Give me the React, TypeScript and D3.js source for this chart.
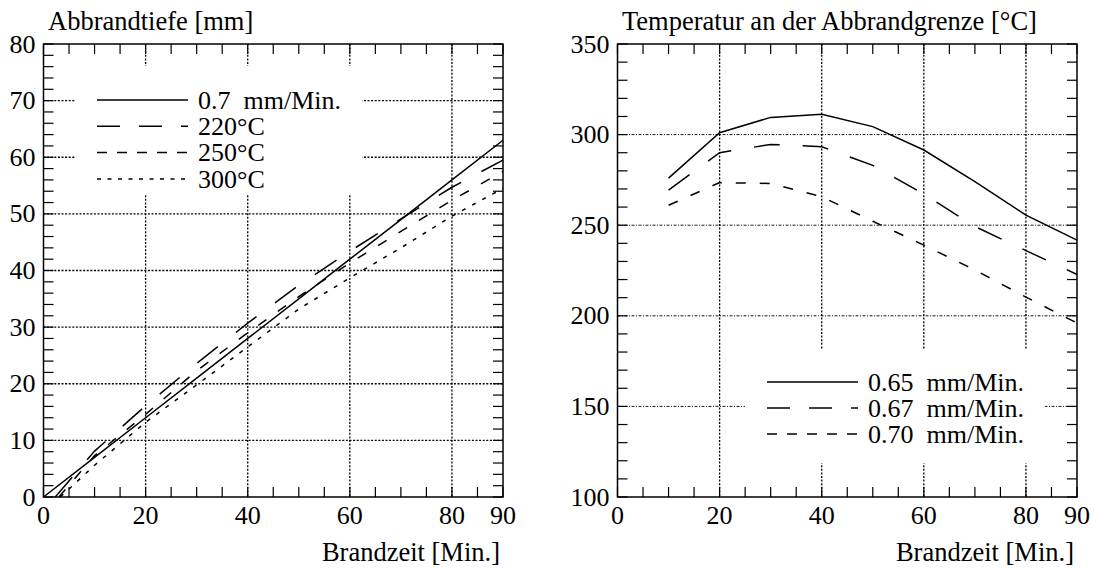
import React from "react";
import * as d3 from "d3";

// ---------- data ----------
const xTickLabels = [0, 20, 40, 60, 80, 90];

// Left panel: Abbrandtiefe [mm]
const leftYTicks = [0, 10, 20, 30, 40, 50, 60, 70, 80];
const solidT = [0, 10, 20, 30, 40, 50, 60, 70, 80, 90];
const solidV = [0, 7, 14, 21, 28, 35, 42, 49, 56, 63];
const t220 = [2.3, 10, 20, 30, 40, 50, 60, 70, 80, 90];
const v220 = [0, 8.1, 16.1, 23.6, 30.7, 37.4, 43.4, 49.1, 54.7, 59.5];
const t250 = [3, 10, 20, 30, 40, 50, 60, 70, 80, 90];
const v250 = [0, 7.3, 14.6, 22.3, 29, 35.4, 41.3, 46.9, 52.4, 57.5];
const t300 = [3.3, 10, 20, 30, 40, 50, 60, 70, 80, 90];
const v300 = [0, 5.6, 13.2, 19.8, 26.5, 33.2, 38.7, 44, 49.6, 54.5];
const leftLegend = ["0.7  mm/Min.", "220°C", "250°C", "300°C"];

// Right panel: Temperatur an der Abbrandgrenze [°C]
const rightYTicks = [100, 150, 200, 250, 300, 350];
const rightT = [10, 20, 30, 40, 50, 60, 70, 80, 90];
const v065 = [276, 301, 309.5, 311.2, 304.4, 291.5, 274, 255.6, 241.8];
const v067 = [269.4, 290, 294.6, 293.3, 283, 267.2, 249.3, 236, 222.8];
const v070 = [261, 273.5, 273, 265.7, 252.2, 239, 225.3, 210.3, 196];
const rightLegend = ["0.65  mm/Min.", "0.67  mm/Min.", "0.70  mm/Min."];

// ---------- styles ----------
const FONT = '"Liberation Serif", "DejaVu Serif", Times, serif';
const DASH_CURVE = ["", "26,23", "10,14", "4,7.5"];
const DASH_LEGEND = ["", "23,19", "10,10", "4,6.5"];

type Series = { t: number[]; v: number[]; style: number };

type PanelProps = {
  x0: number;
  x1: number;
  yTop: number;
  yBottom: number;
  yDomain: [number, number];
  yTicks: number[];
  yMinorStep: number;
  gridY: number[];
  gridX: number[];
  title: string;
  series: Series[];
  legend: string[];
  legendStyles: number[];
  legendLineX: [number, number];
  legendY0: number;
  legendDy: number;
  mask: { x: number; y: number; w: number; h: number };
  hGridDash: string;
  hGridWidth: number;
};

function Panel(p: PanelProps) {
  const x = d3.scaleLinear().domain([0, 90]).range([p.x0, p.x1]);
  const y = d3.scaleLinear().domain(p.yDomain).range([p.yBottom, p.yTop]);
  const line = d3
    .line<[number, number]>()
    .x((d) => x(d[0]))
    .y((d) => y(d[1]));

  const xMinor = d3.range(0, 90.001, 5);
  const yMinor = d3.range(p.yDomain[0], p.yDomain[1] + 0.001, p.yMinorStep);
  const TL = 10;

  return (
    <g>
      {/* grid */}
      {p.gridX.map((g) => (
        <line
          key={"gx" + g}
          x1={x(g)}
          x2={x(g)}
          y1={p.yTop}
          y2={p.yBottom}
          stroke="#000"
          strokeWidth={1.3}
          strokeDasharray="2,1.6"
        />
      ))}
      {p.gridY.map((g) => (
        <line
          key={"gy" + g}
          x1={p.x0}
          x2={p.x1}
          y1={y(g)}
          y2={y(g)}
          stroke="#000"
          strokeWidth={p.hGridWidth}
          strokeDasharray={p.hGridDash}
        />
      ))}
      <rect x={p.mask.x} y={p.mask.y} width={p.mask.w} height={p.mask.h} fill="#fff" />

      {/* ticks */}
      {xMinor.map((t) => (
        <g key={"xt" + t}>
          <line x1={x(t)} x2={x(t)} y1={p.yBottom} y2={p.yBottom - TL} stroke="#000" strokeWidth={1.2} />
          <line x1={x(t)} x2={x(t)} y1={p.yTop} y2={p.yTop + TL} stroke="#000" strokeWidth={1.2} />
        </g>
      ))}
      {yMinor.map((v) => (
        <g key={"yt" + v}>
          <line x1={p.x0} x2={p.x0 + TL} y1={y(v)} y2={y(v)} stroke="#000" strokeWidth={1.2} />
          <line x1={p.x1} x2={p.x1 - TL} y1={y(v)} y2={y(v)} stroke="#000" strokeWidth={1.2} />
        </g>
      ))}

      {/* frame */}
      <rect
        x={p.x0}
        y={p.yTop}
        width={p.x1 - p.x0}
        height={p.yBottom - p.yTop}
        fill="none"
        stroke="#000"
        strokeWidth={1.5}
      />

      {/* curves */}
      {p.series.map((s, i) => (
        <path
          key={"s" + i}
          d={line(s.t.map((t, j) => [t, s.v[j]] as [number, number])) || ""}
          fill="none"
          stroke="#000"
          strokeWidth={1.5}
          strokeDasharray={DASH_CURVE[s.style] || undefined}
        />
      ))}

      {/* tick labels */}
      {p.yTicks.map((v) => (
        <text key={"yl" + v} x={p.x0 - 8} y={y(v) + 8.5} textAnchor="end" fontSize={26}>
          {v}
        </text>
      ))}
      {xTickLabels.map((t) => (
        <text key={"xl" + t} x={x(t)} y={p.yBottom + 27} textAnchor="middle" fontSize={26}>
          {t}
        </text>
      ))}

      {/* titles */}
      <text x={p.x0 + 4.5} y={30} fontSize={26.5}>
        {p.title}
      </text>
      <text x={p.x1 - 3} y={561} textAnchor="end" fontSize={26.5}>
        Brandzeit [Min.]
      </text>

      {/* legend */}
      {p.legend.map((lab, i) => {
        const ly = p.legendY0 + i * p.legendDy;
        return (
          <g key={"lg" + i}>
            <line
              x1={p.legendLineX[0]}
              x2={p.legendLineX[1]}
              y1={ly}
              y2={ly}
              stroke="#000"
              strokeWidth={1.5}
              strokeDasharray={DASH_LEGEND[p.legendStyles[i]] || undefined}
            />
            <text x={p.legendLineX[1] + 10} y={ly + 8.8} fontSize={26} style={{ whiteSpace: "pre" }}>
              {lab}
            </text>
          </g>
        );
      })}
    </g>
  );
}

export default function App() {
  return (
    <svg
      width={1094}
      height={568}
      style={{ position: "fixed", left: 0, top: 0, background: "#fff", fontFamily: FONT }}
    >
      <rect x={0} y={0} width={1094} height={568} fill="#fff" />
      <Panel
        x0={43.5}
        x1={503}
        yTop={44}
        yBottom={497}
        yDomain={[0, 80]}
        yTicks={leftYTicks}
        yMinorStep={2}
        gridY={[10, 20, 30, 40, 50, 60, 70]}
        gridX={[20, 40, 60, 80]}
        title="Abbrandtiefe [mm]"
        series={[
          { t: solidT, v: solidV, style: 0 },
          { t: t220, v: v220, style: 1 },
          { t: t250, v: v250, style: 2 },
          { t: t300, v: v300, style: 3 },
        ]}
        legend={leftLegend}
        legendStyles={[0, 1, 2, 3]}
        legendLineX={[97, 188]}
        legendY0={100}
        legendDy={26.3}
        mask={{ x: 75, y: 66, w: 287, h: 129 }}
        hGridDash="2,1.6"
        hGridWidth={1.3}
      />
      <Panel
        x0={617.5}
        x1={1077}
        yTop={44}
        yBottom={497}
        yDomain={[100, 350]}
        yTicks={rightYTicks}
        yMinorStep={10}
        gridY={[150, 200, 250, 300]}
        gridX={[20, 40, 60, 80]}
        title="Temperatur an der Abbrandgrenze [°C]"
        series={[
          { t: rightT, v: v065, style: 0 },
          { t: rightT, v: v067, style: 1 },
          { t: rightT, v: v070, style: 2 },
        ]}
        legend={rightLegend}
        legendStyles={[0, 1, 2]}
        legendLineX={[767, 858]}
        legendY0={382}
        legendDy={26}
        mask={{ x: 745, y: 350, w: 300, h: 113 }}
        hGridDash="3,1.5,1,1.5"
        hGridWidth={0.9}
      />
    </svg>
  );
}
